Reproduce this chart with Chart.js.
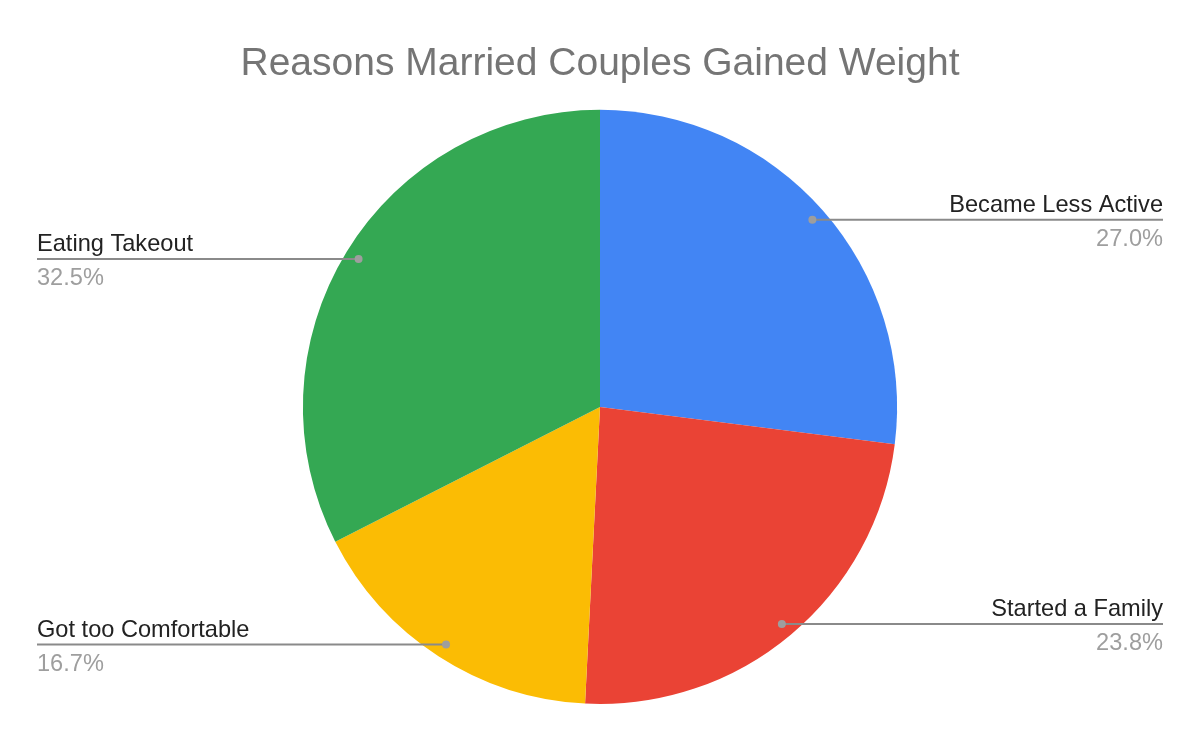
<!DOCTYPE html>
<html>
    <head>
        <title>Reasons Married Couples Gained Weight</title>
        <script src="https://cdn.jsdelivr.net/npm/chart.js"></script>
    </head>

    <body>
        <div style="width: 1200px; height: 742px;">
            <canvas id="myPie"></canvas>
        </div>
        <script>
            // data
            const labels = ['Became Less Active', 'Started a Family', 'Got too Comfortable', 'Eating Takeout'];
            const values = [27.0, 23.8, 16.7, 32.5];
            const colors = ['#4285F4', '#EA4335', '#FBBC04', '#34A853'];

            // leader line + label for each slice
            const sideLabels = {
                id: 'sideLabels',
                afterDraw(chart) {
                    const c = chart.ctx;
                    const meta = chart.getDatasetMeta(0);
                    const total = values.reduce((a, b) => a + b, 0);
                    meta.data.forEach((arc, i) => {
                        const p = arc.getProps(['x', 'y', 'startAngle', 'endAngle', 'outerRadius'], true);
                        const mid = (p.startAngle + p.endAngle) / 2;
                        const dx = p.x + Math.cos(mid) * p.outerRadius * 0.953;
                        const dy = p.y + Math.sin(mid) * p.outerRadius * 0.953;
                        const right = Math.cos(mid) >= 0;
                        const endX = right ? 1163 : 37;

                        c.save();
                        c.strokeStyle = '#8a8a8a';
                        c.lineWidth = 2;
                        c.beginPath();
                        c.moveTo(dx, dy);
                        c.lineTo(endX, dy);
                        c.stroke();

                        c.fillStyle = '#9e9e9e';
                        c.beginPath();
                        c.arc(dx, dy, 4, 0, Math.PI * 2);
                        c.fill();

                        c.font = '23.6px "Liberation Sans", Arial, sans-serif';
                        c.textAlign = right ? 'right' : 'left';
                        c.textBaseline = 'alphabetic';
                        c.fillStyle = '#222222';
                        c.fillText(labels[i], endX, dy - 8);
                        c.fillStyle = '#9e9e9e';
                        c.fillText((values[i] / total * 100).toFixed(1) + '%', endX, dy + 26);
                        c.restore();
                    });
                }
            };

            const ctx = document.getElementById('myPie');
            const pie = new Chart(ctx, {
                type: 'pie',
                data: {
                    labels: labels,
                    datasets: [{
                        data: values,
                        backgroundColor: colors,
                        borderWidth: 0
                    }]
                },
                options: {
                    responsive: true,
                    maintainAspectRatio: false,
                    animation: false,
                    layout: {
                        padding: { bottom: 38 }
                    },
                    plugins: {
                        legend: { display: false },
                        tooltip: { enabled: false },
                        title: {
                            display: true,
                            text: 'Reasons Married Couples Gained Weight',
                            color: '#757575',
                            font: { family: '"Liberation Sans", Arial, sans-serif', size: 39, weight: 'normal', lineHeight: 1.2 },
                            padding: { top: 41, bottom: 22 }
                        }
                    }
                },
                plugins: [sideLabels]
            });
        </script>
    </body>
</html>

<style>
    body {
        margin: 0;
        background: #ffffff;
    }
</style>
